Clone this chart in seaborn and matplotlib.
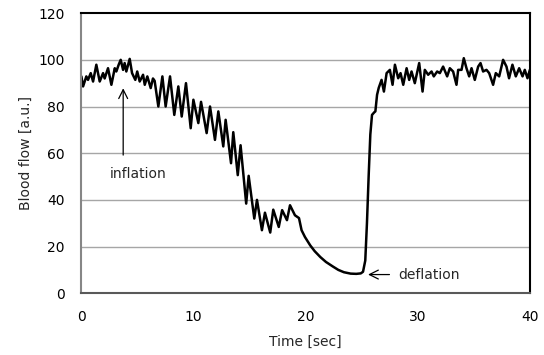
import numpy as np
import pandas as pd
import matplotlib
matplotlib.use("Agg")
import matplotlib.pyplot as plt
import seaborn as sns

# Blood flow trace
time_sec = [
    0.03, 0.18, 0.47, 0.62, 0.86, 1.07, 1.36, 1.66, 1.96, 2.10, 2.40, 2.70,
    3.00, 3.14, 3.35, 3.53, 3.74, 3.88, 4.03, 4.33, 4.54, 4.83, 5.00, 5.22,
    5.52, 5.67, 5.90, 6.20, 6.40, 6.55, 6.88, 7.24, 7.53, 7.92, 8.30, 8.66,
    8.96, 9.34, 9.76, 10.00, 10.44, 10.68, 11.18, 11.48, 11.92, 12.22, 12.66,
    12.87, 13.35, 13.55, 13.95, 14.20, 14.70, 14.92, 15.42, 15.66, 16.10,
    16.37, 16.84, 17.11, 17.60, 17.90, 18.33, 18.60, 19.04, 19.40, 19.63,
    19.93, 20.40, 20.80, 21.30, 21.80, 22.40, 22.90, 23.40, 24.00, 24.50,
    24.90, 25.10, 25.30, 25.45, 25.60, 25.75, 25.90, 26.10, 26.20, 26.35,
    26.50, 26.75, 26.96, 27.20, 27.49, 27.73, 27.94, 28.23, 28.44, 28.68,
    28.98, 29.21, 29.42, 29.71, 30.10, 30.40, 30.60, 30.90, 31.20, 31.40,
    31.70, 31.94, 32.23, 32.59, 32.83, 33.12, 33.42, 33.57, 33.87, 34.07,
    34.31, 34.55, 34.76, 35.05, 35.35, 35.56, 35.79, 36.09, 36.33, 36.68,
    36.92, 37.22, 37.57, 37.87, 38.10, 38.40, 38.70, 39.00, 39.30, 39.50,
    39.74, 39.95, 40.00,
]
blood_flow = [
    92.9, 88.6, 92.9, 91.4, 94.3, 90.7, 97.9, 90.7, 94.3, 92.0, 96.4, 89.3,
    96.4, 95.0, 97.9, 100.0, 95.7, 98.6, 95.0, 100.4, 94.3, 91.4, 95.0, 90.7,
    93.6, 89.3, 92.9, 87.9, 92.0, 91.0, 80.0, 92.9, 80.0, 92.9, 76.4, 88.6,
    75.7, 90.0, 70.7, 82.9, 72.9, 82.0, 68.6, 80.0, 65.7, 77.9, 62.9,
    74.3, 55.7, 69.0, 50.6, 63.4, 38.4, 50.3, 32.0, 40.0, 27.0,
    34.5, 26.0, 35.8, 28.4, 35.6, 31.3, 37.7, 33.4, 32.2, 27.0,
    24.1, 20.5, 18.0, 15.5, 13.4, 11.5, 10.0, 9.0, 8.4, 8.3,
    8.5, 9.2, 14.0, 30.0, 50.0, 68.0, 76.4, 77.5, 77.9, 85.0,
    88.0, 91.4, 86.4, 94.3, 95.7, 89.3, 97.9, 92.1, 94.3, 89.3,
    96.4, 91.4, 95.0, 90.0, 98.6, 86.4, 95.7, 93.6, 95.0, 92.9,
    95.0, 94.3, 97.1, 92.9, 96.4, 95.0, 89.3, 95.7, 95.7, 100.7,
    96.4, 92.9, 96.4, 91.4, 97.1, 98.6, 95.0, 95.7, 94.3, 89.3,
    94.3, 92.9, 100.0, 97.1, 92.1, 97.9, 92.9, 96.4, 92.9, 95.7,
    92.1, 95.7, 91.4,
]
y_ticks = [0, 20, 40, 60, 80, 100, 120]
x_ticks = [0, 10, 20, 30, 40]

df = pd.DataFrame({"time": time_sec, "flow": blood_flow})

sns.set_style("white")
plt.rcParams["font.family"] = ["DejaVu Sans"]

fig = plt.figure(figsize=(5.44, 3.55), dpi=100)
ax = fig.add_axes([0.149, 0.174, 0.826, 0.789])

for yv in y_ticks[1:-1]:
    ax.axhline(yv, color="#a6a6a6", lw=1.0, zorder=0)

sns.lineplot(data=df, x="time", y="flow", estimator=None, sort=False,
             color="black", lw=1.8, ax=ax)

ax.set_xlim(0, 40)
ax.set_ylim(0, 120)
ax.set_xticks(x_ticks)
ax.set_yticks(y_ticks)
ax.tick_params(axis="both", direction="out", length=4, width=1,
               color="#868686", labelsize=10, labelcolor="black")
ax.tick_params(axis="x", pad=8)
ax.tick_params(axis="y", pad=8)
ax.set_xlabel("Time [sec]", fontsize=10, labelpad=8)
ax.set_ylabel("Blood flow [a.u.]", fontsize=10, labelpad=4)

ax.spines["left"].set_color("#868686")
ax.spines["bottom"].set_color("#595959")
ax.spines["top"].set_color("black")
ax.spines["right"].set_color("black")
for s in ax.spines.values():
    s.set_linewidth(1.5)

# annotations
ax.annotate("", xy=(3.75, 89), xytext=(3.75, 58),
            arrowprops=dict(arrowstyle="->", color="black", lw=0.9, mutation_scale=16))
ax.text(5.1, 51, "inflation", ha="center", va="center", fontsize=10)
ax.annotate("", xy=(25.3, 8), xytext=(27.7, 8),
            arrowprops=dict(arrowstyle="->", color="black", lw=0.9, mutation_scale=16))
ax.text(28.2, 7.7, "deflation", ha="left", va="center", fontsize=10)

fig.savefig("out.png", dpi=100)
